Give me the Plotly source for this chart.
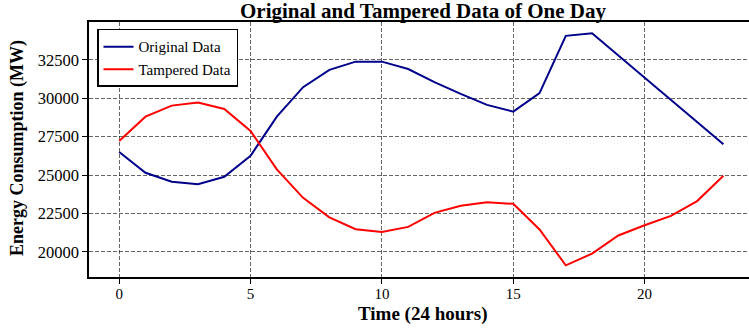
import plotly.graph_objects as go

hours = list(range(24))
original = [26500, 25150, 24570, 24400, 24890, 26260, 28800, 30720, 31850, 32380,
            32380, 31900, 31050, 30280, 29570, 29130, 30330, 34060, 34230, 32790,
            31350, 29900, 28450, 27000]
tampered = [27220, 28800, 29520, 29720, 29300, 27870, 25370, 23520, 22250, 21480,
            21300, 21630, 22540, 23000, 23240, 23130, 21460, 19130, 19890, 21070,
            21740, 22350, 23310, 24960]
x_ticks = [0, 5, 10, 15, 20]
y_ticks = [20000, 22500, 25000, 27500, 30000, 32500]

FONT = "Liberation Serif, Times New Roman, serif"
W = 770  # plot area runs past the 749px window, like the cropped original

fig = go.Figure()
fig.add_trace(go.Scatter(x=hours, y=original, mode="lines", name="Original Data",
                         line=dict(color="#00008B", width=2)))
fig.add_trace(go.Scatter(x=hours, y=tampered, mode="lines", name="Tampered Data",
                         line=dict(color="#FF0000", width=2)))

def axis_style(**kw):
    d = dict(showgrid=True, gridcolor="rgba(0,0,0,0.6)", gridwidth=1, griddash="4px,2px",
             zeroline=False, showline=True, linecolor="black", linewidth=1.5,
             ticks="outside", ticklen=5, tickwidth=1, tickcolor="black",
             automargin=False, tickformat="d",
             tickfont=dict(family=FONT, size=15, color="black"))
    d.update(kw)
    return d

pw = W - 89
def px_x(p):
    return (p - 89) / pw

fig.update_layout(
    width=W, height=331,
    margin=dict(l=89, r=0, t=22, b=54, autoexpand=False),
    font=dict(family=FONT, size=15, color="black"),
    plot_bgcolor="white", paper_bgcolor="white",
    xaxis=axis_style(range=[-1.15, -1.15 + pw / 26.27], tickvals=x_ticks, mirror=True,
                     ticklabelstandoff=-3),
    yaxis=axis_style(range=[18370, 34960], tickvals=y_ticks, mirror=False,
                     tickfont=dict(family=FONT, size=16.5, color="black")),
    showlegend=True,
    legend=dict(x=px_x(97), y=0.973, xanchor="left", yanchor="top",
                bgcolor="white", bordercolor="black", borderwidth=1.5,
                font=dict(family=FONT, size=15, color="black"),
                tracegroupgap=0, itemwidth=30),
    annotations=[
        dict(text="<b>Original and Tampered Data of One Day</b>", xref="paper", yref="paper",
             x=px_x(423), y=1, xanchor="center", yanchor="bottom", yshift=-3, showarrow=False,
             font=dict(family=FONT, size=21, color="black")),
        dict(text="<b>Time (24 hours)</b>", xref="paper", yref="paper",
             x=px_x(422), y=-0.141, xanchor="center", yanchor="middle", yshift=-1,
             showarrow=False, font=dict(family=FONT, size=19, color="black")),
        dict(text="<b>Energy Consumption (MW)</b>", xref="paper", yref="paper",
             x=px_x(18), y=0.506, xanchor="center", yanchor="middle", textangle=-90,
             showarrow=False, font=dict(family=FONT, size=18, color="black")),
    ],
)

fig.write_html("out.html", config={"displayModeBar": False},
               post_script="document.body.style.margin='0';"
                           "document.body.style.overflow='hidden';"
                           "document.documentElement.style.overflow='hidden';")
